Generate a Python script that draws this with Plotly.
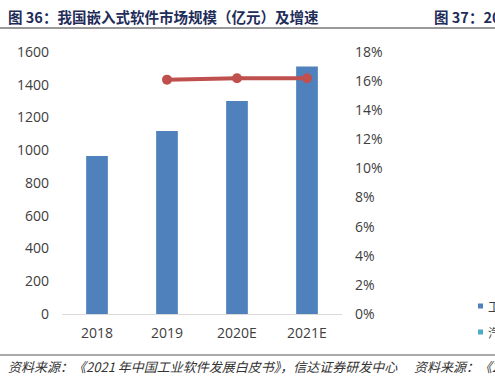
import plotly.graph_objects as go

categories = ["2018", "2019", "2020E", "2021E"]
market_size = [965, 1117, 1301, 1512]
growth_cats = ["2019", "2020E", "2021E"]
growth_rate = [0.161, 0.162, 0.162]

left_ticks = [0, 200, 400, 600, 800, 1000, 1200, 1400, 1600]
right_ticks = [i / 100 for i in range(0, 20, 2)]

title_text = "图 36：我国嵌入式软件市场规模（亿元）及增速"
title_next = "图 37：20"
source_text = "资料来源：《2021 年中国工业软件发展白皮书》，信达证券研发中心"
source_next = "资料来源：《2"
legend_next = ["工", "汽"]

W, H = 495, 384
L, R, T, B = 62, 153, 52, 70
pw, ph = W - L - R, H - T - B

tick_font = dict(family="Open Sans, DejaVu Sans, sans-serif", size=14, color="#404040")

fig = go.Figure()
fig.add_trace(go.Bar(x=categories, y=market_size, marker_color="#4f81bd",
                     marker_line_width=0, yaxis="y", showlegend=False))
fig.add_trace(go.Scatter(x=growth_cats, y=growth_rate, yaxis="y2", mode="lines+markers",
                         line=dict(color="#c0504d", width=4),
                         marker=dict(color="#c0504d", size=10), showlegend=False))

fig.update_layout(
    width=W, height=H,
    margin=dict(l=L, r=R, t=T, b=B),
    plot_bgcolor="white", paper_bgcolor="white",
    bargap=0.69,
    xaxis=dict(showgrid=False, showline=True, linecolor="#d9d9d9", linewidth=1,
               ticks="", tickfont=tick_font, ticklabelstandoff=6),
    yaxis=dict(range=[0, 1600], tickvals=left_ticks, showgrid=False, zeroline=False,
               ticks="", tickfont=tick_font, ticklabelstandoff=12),
    yaxis2=dict(range=[0, 0.18], tickvals=right_ticks, tickformat=".0%", overlaying="y",
                side="right", showgrid=False, zeroline=False, ticks="",
                tickfont=tick_font, ticklabelstandoff=12),
)


def px_x(px):
    return (px - L) / pw


def px_y(py_top):
    # py_top measured from top of the image
    return (H - py_top - B) / ph


title_font = dict(family="Noto Sans CJK SC", size=14.5, color="#1f2d5a", weight="bold")
fig.add_annotation(text=title_text, x=px_x(6), y=px_y(17), xref="paper", yref="paper",
                   showarrow=False, xanchor="left", yanchor="middle", font=title_font)
fig.add_annotation(text=title_next, x=px_x(432), y=px_y(17), xref="paper", yref="paper",
                   showarrow=False, xanchor="left", yanchor="middle", font=title_font)

src_font = dict(family="Noto Sans CJK SC", size=13, color="#333333", style="italic")
fig.add_annotation(text=source_text, x=px_x(6), y=px_y(366), xref="paper", yref="paper",
                   showarrow=False, xanchor="left", yanchor="middle", font=src_font)
fig.add_annotation(text=source_next, x=px_x(412), y=px_y(366), xref="paper", yref="paper",
                   showarrow=False, xanchor="left", yanchor="middle", font=src_font)

leg_font = dict(family="Noto Sans CJK SC", size=12, color="#404040")
for i, (txt, col) in enumerate(zip(legend_next, ["#4f81bd", "#4bacc6"])):
    yy = 306 + 26 * i
    fig.add_shape(type="rect", xref="paper", yref="paper",
                  x0=px_x(478), x1=px_x(483), y0=px_y(yy + 2.5), y1=px_y(yy - 2.5),
                  fillcolor=col, line_width=0)
    fig.add_annotation(text=txt, x=px_x(486), y=px_y(yy), xref="paper", yref="paper",
                       showarrow=False, xanchor="left", yanchor="middle", font=leg_font)

fig.add_shape(type="line", xref="paper", yref="paper", x0=px_x(0), x1=px_x(W),
              y0=px_y(28), y1=px_y(28), line=dict(color="#999999", width=2))
fig.add_shape(type="line", xref="paper", yref="paper", x0=px_x(0), x1=px_x(W),
              y0=px_y(355), y1=px_y(355), line=dict(color="#555555", width=1))

fig.write_html("out.html", config={"displayModeBar": False},
               post_script="document.body.style.margin='0px';")
